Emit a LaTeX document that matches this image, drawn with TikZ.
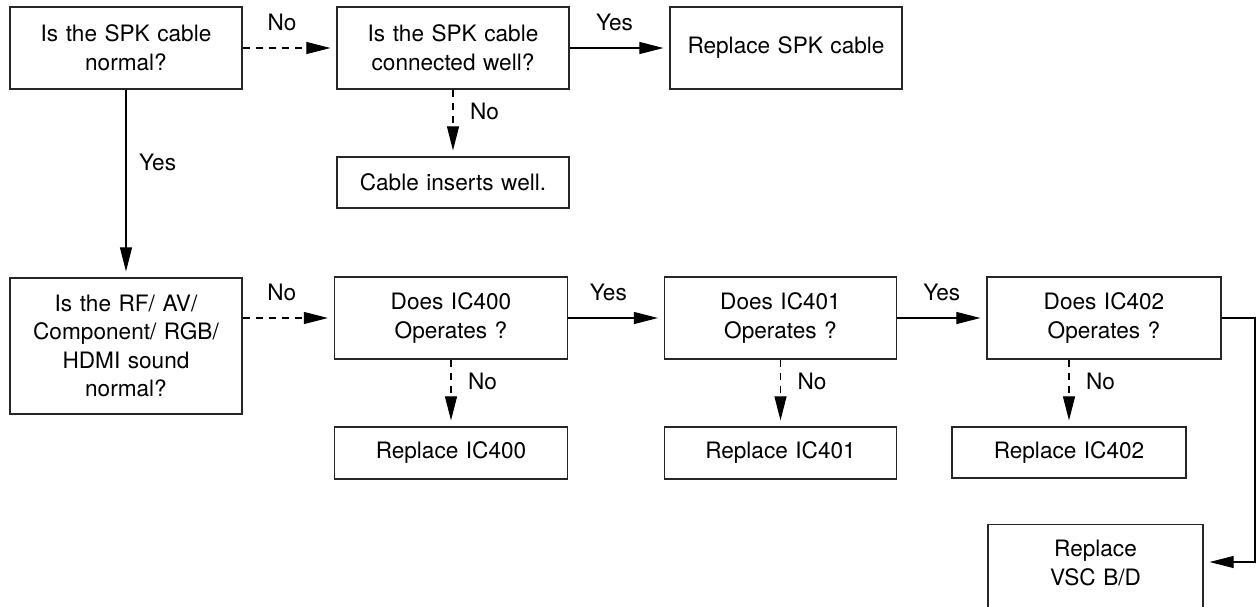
\documentclass[tikz,border=0pt]{standalone}
\usepackage{fontspec}
\setmainfont{TeX Gyre Heros}
\usetikzlibrary{positioning, arrows.meta}

\begin{document}
\begin{tikzpicture}[
    x=0.5pt, y=-0.5pt,
    >={Triangle[length=12pt, width=6pt]},
    box/.style={draw=black!85, line width=0.6pt, align=center, inner sep=0pt,
        text width=106pt, minimum width=116pt, minimum height=41pt,
        font=\fontsize{11.3}{14.3}\selectfont},
    lbl/.style={inner sep=0pt, text height=8.1pt, text depth=0pt,
        font=\fontsize{11.3}{14.3}\selectfont},
    yesline/.style={->, line width=0.55pt, shorten >=3pt},
    noline/.style={yesline, dash pattern=on 3.5pt off 3pt}
]
    \useasboundingbox (0,0) rectangle (1258,606);

    % cable checks
    \node[box] (spk)  at (126,48)  {Is the SPK cable\\normal?};
    \node[box] (conn) at (453,48)  {Is the SPK cable\\connected well?};
    \node[box] (rep)  at (786,48)  {Replace SPK cable};
    \node[box, minimum height=25.5pt] (ins) at (453,182.5) {Cable inserts well.};

    % sound and IC checks
    \node[box, minimum height=68pt] (snd) at (126,346)
        {Is the RF/ AV/\\Component/ RGB/\\HDMI sound\\normal?};
    \node[box, minimum width=116.5pt] (ic0) at (451,318)    {Does IC400\\Operates ?};
    \node[box]                        (ic1) at (780.5,318)  {Does IC401\\Operates ?};
    \node[box, minimum width=117pt]   (ic2) at (1104,318)   {Does IC402\\Operates ?};

    % replacements
    \node[box, minimum width=116.5pt, minimum height=26pt] (rep0) at (451,453)   {Replace IC400};
    \node[box, minimum height=26pt]                        (rep1) at (780.5,453) {Replace IC401};
    \node[box, minimum width=117pt, minimum height=25.5pt] (rep2) at (1069,452.5) {Replace IC402};
    \node[box, text width=100pt, minimum width=107.5pt, minimum height=57pt, anchor=north]
        (vsc) at (1095.5,524) {Replace\\VSC B/D\\\strut};

    \coordinate (turn) at (1255,562);

    % connectors
    \draw[noline]  (spk)  -- node[lbl, pos=0.42, above=8.5pt] {No} (conn);
    \draw[yesline] (conn) -- node[lbl, pos=0.45, above=8.5pt] {Yes} (rep);
    \draw[noline]  (conn) -- node[lbl, pos=0.32, right=8.3pt] {No} (ins);
    \draw[yesline] (spk)  -- node[lbl, pos=0.39, right=6.3pt] {Yes} (snd);

    \draw[noline]  (snd.east |- ic0) -- node[lbl, pos=0.43, above=8.5pt] {No} (ic0);
    \draw[yesline] (ic0) -- node[lbl, pos=0.42, above=8.5pt] {Yes} (ic1);
    \draw[yesline] (ic1) -- node[lbl, above=8.5pt] {Yes} (ic2);

    \draw[noline] (ic0) -- node[lbl, pos=0.32, right=8.3pt] {No} (rep0);
    \draw[noline] (ic1) -- node[lbl, pos=0.32, right=8.3pt] {No} (rep1);
    \draw[noline] (rep2 |- ic2.south) -- node[lbl, pos=0.32, right=8.3pt] {No} (rep2);

    \draw[yesline] (ic2.east) -| (turn) -- (turn -| vsc.east);
\end{tikzpicture}
\end{document}
